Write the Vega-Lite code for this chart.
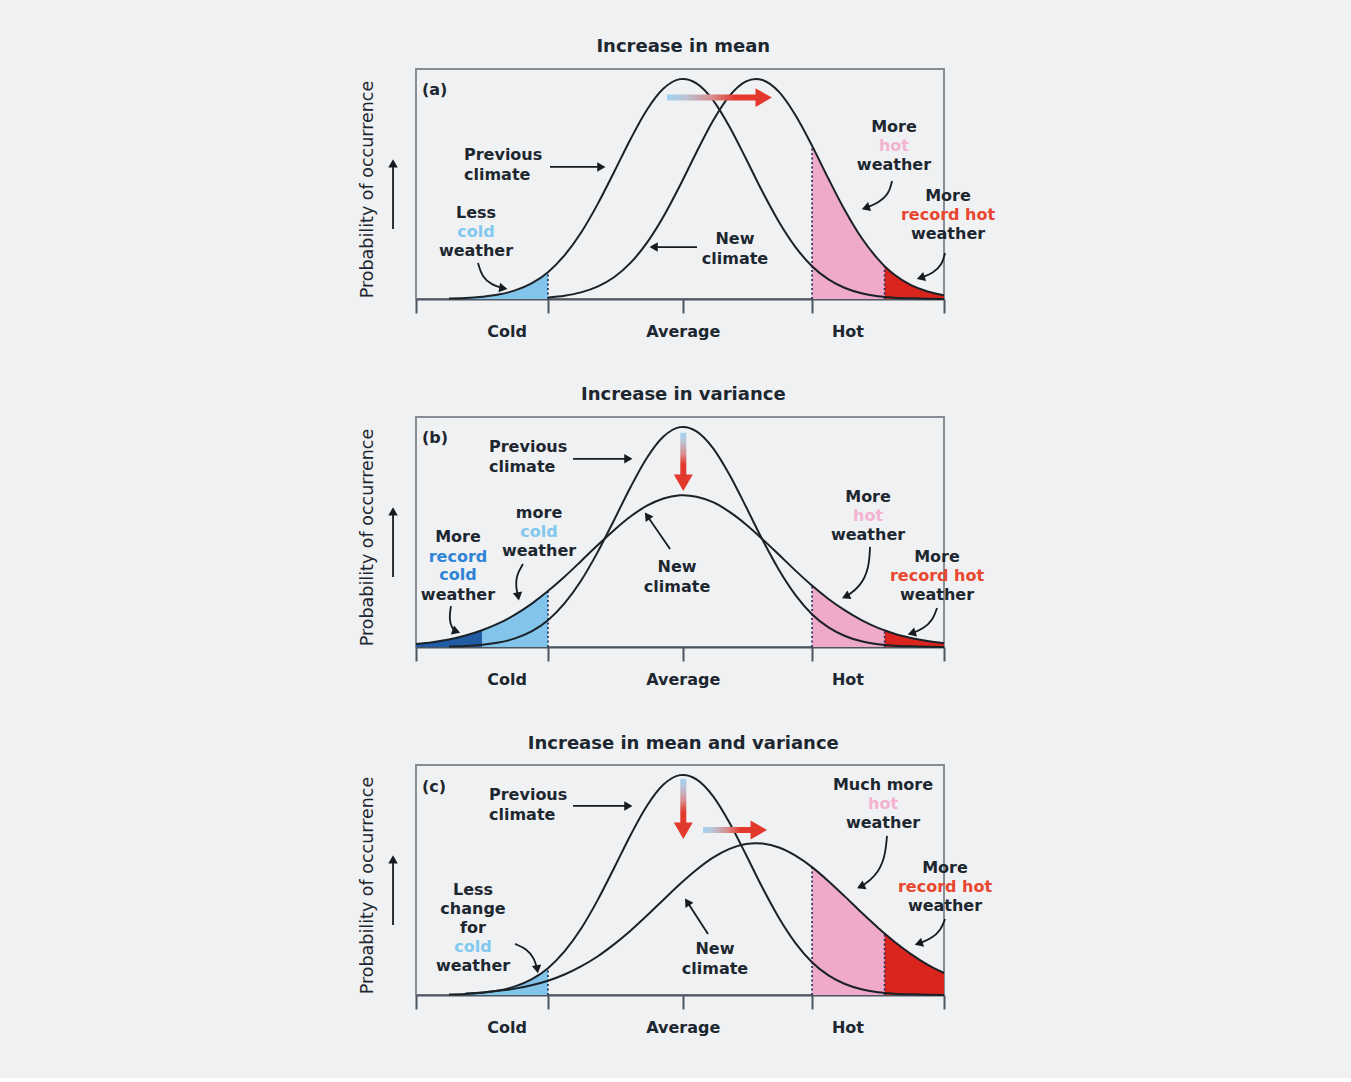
{
"$schema":"https://vega.github.io/schema/vega-lite/v6.json",
"background":"#f0f1f3",
"padding":{"left":358,"top":36,"right":360,"bottom":40},
"config":{"view":{"stroke":"#878e95","strokeWidth":2},"axis":{"grid":false}},
"data":{"values":[
{"panel":"a","kind":"curve","series":"prev","x":-3.55,"y":0.002,"zone":"cold"},
{"panel":"a","kind":"curve","series":"prev","x":-3.3,"y":0.004,"zone":"cold"},
{"panel":"a","kind":"curve","series":"prev","x":-3.05,"y":0.010,"zone":"cold"},
{"panel":"a","kind":"curve","series":"prev","x":-2.8,"y":0.020,"zone":"cold"},
{"panel":"a","kind":"curve","series":"prev","x":-2.55,"y":0.039,"zone":"cold"},
{"panel":"a","kind":"curve","series":"prev","x":-2.3,"y":0.071,"zone":"cold"},
{"panel":"a","kind":"curve","series":"prev","x":-2.05,"y":0.122,"zone":"cold"},
{"panel":"a","kind":"curve","series":"prev","x":-1.8,"y":0.198},
{"panel":"a","kind":"curve","series":"prev","x":-1.55,"y":0.301},
{"panel":"a","kind":"curve","series":"prev","x":-1.3,"y":0.430},
{"panel":"a","kind":"curve","series":"prev","x":-1.05,"y":0.576},
{"panel":"a","kind":"curve","series":"prev","x":-0.8,"y":0.726},
{"panel":"a","kind":"curve","series":"prev","x":-0.55,"y":0.860},
{"panel":"a","kind":"curve","series":"prev","x":-0.3,"y":0.956},
{"panel":"a","kind":"curve","series":"prev","x":-0.05,"y":0.999},
{"panel":"a","kind":"curve","series":"prev","x":0,"y":1.0},
{"panel":"a","kind":"curve","series":"prev","x":0.2,"y":0.980},
{"panel":"a","kind":"curve","series":"prev","x":0.45,"y":0.904},
{"panel":"a","kind":"curve","series":"prev","x":0.7,"y":0.783},
{"panel":"a","kind":"curve","series":"prev","x":0.95,"y":0.637},
{"panel":"a","kind":"curve","series":"prev","x":1.2,"y":0.487},
{"panel":"a","kind":"curve","series":"prev","x":1.45,"y":0.350},
{"panel":"a","kind":"curve","series":"prev","x":1.7,"y":0.236},
{"panel":"a","kind":"curve","series":"prev","x":1.95,"y":0.149},
{"panel":"a","kind":"curve","series":"prev","x":2.2,"y":0.089},
{"panel":"a","kind":"curve","series":"prev","x":2.45,"y":0.050},
{"panel":"a","kind":"curve","series":"prev","x":2.7,"y":0.026},
{"panel":"a","kind":"curve","series":"prev","x":2.95,"y":0.013},
{"panel":"a","kind":"curve","series":"prev","x":3.2,"y":0.006},
{"panel":"a","kind":"curve","series":"prev","x":3.45,"y":0.003},
{"panel":"a","kind":"curve","series":"prev","x":3.7,"y":0.001},
{"panel":"a","kind":"curve","series":"prev","x":3.95,"y":0.0},
{"panel":"a","kind":"curve","series":"new","x":-2.05,"y":0.007},
{"panel":"a","kind":"curve","series":"new","x":-1.8,"y":0.015},
{"panel":"a","kind":"curve","series":"new","x":-1.55,"y":0.030},
{"panel":"a","kind":"curve","series":"new","x":-1.3,"y":0.056},
{"panel":"a","kind":"curve","series":"new","x":-1.05,"y":0.099},
{"panel":"a","kind":"curve","series":"new","x":-0.8,"y":0.164},
{"panel":"a","kind":"curve","series":"new","x":-0.55,"y":0.256},
{"panel":"a","kind":"curve","series":"new","x":-0.3,"y":0.375},
{"panel":"a","kind":"curve","series":"new","x":-0.05,"y":0.516},
{"panel":"a","kind":"curve","series":"new","x":0.2,"y":0.667},
{"panel":"a","kind":"curve","series":"new","x":0.45,"y":0.810},
{"panel":"a","kind":"curve","series":"new","x":0.7,"y":0.923},
{"panel":"a","kind":"curve","series":"new","x":0.95,"y":0.989},
{"panel":"a","kind":"curve","series":"new","x":1.1,"y":1.0},
{"panel":"a","kind":"curve","series":"new","x":1.2,"y":0.995},
{"panel":"a","kind":"curve","series":"new","x":1.45,"y":0.941},
{"panel":"a","kind":"curve","series":"new","x":1.7,"y":0.835},
{"panel":"a","kind":"curve","series":"new","x":1.95,"y":0.697,"zone":"hot"},
{"panel":"a","kind":"curve","series":"new","x":2.2,"y":0.546,"zone":"hot"},
{"panel":"a","kind":"curve","series":"new","x":2.45,"y":0.402,"zone":"hot"},
{"panel":"a","kind":"curve","series":"new","x":2.7,"y":0.278,"zone":"hot"},
{"panel":"a","kind":"curve","series":"new","x":2.95,"y":0.181,"zone":"hot"},
{"panel":"a","kind":"curve","series":"new","x":3.05,"y":0.149,"zone":"hot"},
{"panel":"a","kind":"curve","series":"new","x":3.05,"y":0.149,"zone":"rhot"},
{"panel":"a","kind":"curve","series":"new","x":3.2,"y":0.110,"zone":"rhot"},
{"panel":"a","kind":"curve","series":"new","x":3.45,"y":0.063,"zone":"rhot"},
{"panel":"a","kind":"curve","series":"new","x":3.7,"y":0.034,"zone":"rhot"},
{"panel":"a","kind":"curve","series":"new","x":3.95,"y":0.017,"zone":"rhot"},

{"panel":"b","kind":"curve","series":"prev","x":-3.55,"y":0.002},
{"panel":"b","kind":"curve","series":"prev","x":-3.3,"y":0.004},
{"panel":"b","kind":"curve","series":"prev","x":-3.05,"y":0.010},
{"panel":"b","kind":"curve","series":"prev","x":-2.8,"y":0.020},
{"panel":"b","kind":"curve","series":"prev","x":-2.55,"y":0.039},
{"panel":"b","kind":"curve","series":"prev","x":-2.3,"y":0.071},
{"panel":"b","kind":"curve","series":"prev","x":-2.05,"y":0.122},
{"panel":"b","kind":"curve","series":"prev","x":-1.8,"y":0.198},
{"panel":"b","kind":"curve","series":"prev","x":-1.55,"y":0.301},
{"panel":"b","kind":"curve","series":"prev","x":-1.3,"y":0.430},
{"panel":"b","kind":"curve","series":"prev","x":-1.05,"y":0.576},
{"panel":"b","kind":"curve","series":"prev","x":-0.8,"y":0.726},
{"panel":"b","kind":"curve","series":"prev","x":-0.55,"y":0.860},
{"panel":"b","kind":"curve","series":"prev","x":-0.3,"y":0.956},
{"panel":"b","kind":"curve","series":"prev","x":-0.05,"y":0.999},
{"panel":"b","kind":"curve","series":"prev","x":0,"y":1.0},
{"panel":"b","kind":"curve","series":"prev","x":0.2,"y":0.980},
{"panel":"b","kind":"curve","series":"prev","x":0.45,"y":0.904},
{"panel":"b","kind":"curve","series":"prev","x":0.7,"y":0.783},
{"panel":"b","kind":"curve","series":"prev","x":0.95,"y":0.637},
{"panel":"b","kind":"curve","series":"prev","x":1.2,"y":0.487},
{"panel":"b","kind":"curve","series":"prev","x":1.45,"y":0.350},
{"panel":"b","kind":"curve","series":"prev","x":1.7,"y":0.236},
{"panel":"b","kind":"curve","series":"prev","x":1.95,"y":0.149},
{"panel":"b","kind":"curve","series":"prev","x":2.2,"y":0.089},
{"panel":"b","kind":"curve","series":"prev","x":2.45,"y":0.050},
{"panel":"b","kind":"curve","series":"prev","x":2.7,"y":0.026},
{"panel":"b","kind":"curve","series":"prev","x":2.95,"y":0.013},
{"panel":"b","kind":"curve","series":"prev","x":3.2,"y":0.006},
{"panel":"b","kind":"curve","series":"prev","x":3.45,"y":0.003},
{"panel":"b","kind":"curve","series":"prev","x":3.7,"y":0.001},
{"panel":"b","kind":"curve","series":"prev","x":3.95,"y":0.0},
{"panel":"b","kind":"curve","series":"new","x":-4.05,"y":0.014,"zone":"rcold"},
{"panel":"b","kind":"curve","series":"new","x":-3.8,"y":0.022,"zone":"rcold"},
{"panel":"b","kind":"curve","series":"new","x":-3.55,"y":0.034,"zone":"rcold"},
{"panel":"b","kind":"curve","series":"new","x":-3.3,"y":0.052,"zone":"rcold"},
{"panel":"b","kind":"curve","series":"new","x":-3.05,"y":0.076,"zone":"rcold"},
{"panel":"b","kind":"curve","series":"new","x":-3.05,"y":0.076,"zone":"cold"},
{"panel":"b","kind":"curve","series":"new","x":-2.8,"y":0.107,"zone":"cold"},
{"panel":"b","kind":"curve","series":"new","x":-2.55,"y":0.147,"zone":"cold"},
{"panel":"b","kind":"curve","series":"new","x":-2.3,"y":0.196,"zone":"cold"},
{"panel":"b","kind":"curve","series":"new","x":-2.05,"y":0.254,"zone":"cold"},
{"panel":"b","kind":"curve","series":"new","x":-1.8,"y":0.319},
{"panel":"b","kind":"curve","series":"new","x":-1.55,"y":0.390},
{"panel":"b","kind":"curve","series":"new","x":-1.3,"y":0.462},
{"panel":"b","kind":"curve","series":"new","x":-1.05,"y":0.531},
{"panel":"b","kind":"curve","series":"new","x":-0.8,"y":0.593},
{"panel":"b","kind":"curve","series":"new","x":-0.55,"y":0.642},
{"panel":"b","kind":"curve","series":"new","x":-0.3,"y":0.675},
{"panel":"b","kind":"curve","series":"new","x":-0.05,"y":0.689},
{"panel":"b","kind":"curve","series":"new","x":0,"y":0.690},
{"panel":"b","kind":"curve","series":"new","x":0.2,"y":0.683},
{"panel":"b","kind":"curve","series":"new","x":0.45,"y":0.658},
{"panel":"b","kind":"curve","series":"new","x":0.7,"y":0.614},
{"panel":"b","kind":"curve","series":"new","x":0.95,"y":0.557},
{"panel":"b","kind":"curve","series":"new","x":1.2,"y":0.490},
{"panel":"b","kind":"curve","series":"new","x":1.45,"y":0.419},
{"panel":"b","kind":"curve","series":"new","x":1.7,"y":0.347},
{"panel":"b","kind":"curve","series":"new","x":1.95,"y":0.279,"zone":"hot"},
{"panel":"b","kind":"curve","series":"new","x":2.2,"y":0.218,"zone":"hot"},
{"panel":"b","kind":"curve","series":"new","x":2.45,"y":0.166,"zone":"hot"},
{"panel":"b","kind":"curve","series":"new","x":2.7,"y":0.122,"zone":"hot"},
{"panel":"b","kind":"curve","series":"new","x":2.95,"y":0.087,"zone":"hot"},
{"panel":"b","kind":"curve","series":"new","x":3.05,"y":0.076,"zone":"hot"},
{"panel":"b","kind":"curve","series":"new","x":3.05,"y":0.076,"zone":"rhot"},
{"panel":"b","kind":"curve","series":"new","x":3.2,"y":0.060,"zone":"rhot"},
{"panel":"b","kind":"curve","series":"new","x":3.45,"y":0.041,"zone":"rhot"},
{"panel":"b","kind":"curve","series":"new","x":3.7,"y":0.027,"zone":"rhot"},
{"panel":"b","kind":"curve","series":"new","x":3.95,"y":0.017,"zone":"rhot"},

{"panel":"c","kind":"curve","series":"prev","x":-3.55,"y":0.002,"zone":"cold"},
{"panel":"c","kind":"curve","series":"prev","x":-3.3,"y":0.004,"zone":"cold"},
{"panel":"c","kind":"curve","series":"prev","x":-3.05,"y":0.010,"zone":"cold"},
{"panel":"c","kind":"curve","series":"prev","x":-2.8,"y":0.020,"zone":"cold"},
{"panel":"c","kind":"curve","series":"prev","x":-2.55,"y":0.039,"zone":"cold"},
{"panel":"c","kind":"curve","series":"prev","x":-2.3,"y":0.071,"zone":"cold"},
{"panel":"c","kind":"curve","series":"prev","x":-2.05,"y":0.122,"zone":"cold"},
{"panel":"c","kind":"curve","series":"prev","x":-1.8,"y":0.198},
{"panel":"c","kind":"curve","series":"prev","x":-1.55,"y":0.301},
{"panel":"c","kind":"curve","series":"prev","x":-1.3,"y":0.430},
{"panel":"c","kind":"curve","series":"prev","x":-1.05,"y":0.576},
{"panel":"c","kind":"curve","series":"prev","x":-0.8,"y":0.726},
{"panel":"c","kind":"curve","series":"prev","x":-0.55,"y":0.860},
{"panel":"c","kind":"curve","series":"prev","x":-0.3,"y":0.956},
{"panel":"c","kind":"curve","series":"prev","x":-0.05,"y":0.999},
{"panel":"c","kind":"curve","series":"prev","x":0,"y":1.0},
{"panel":"c","kind":"curve","series":"prev","x":0.2,"y":0.980},
{"panel":"c","kind":"curve","series":"prev","x":0.45,"y":0.904},
{"panel":"c","kind":"curve","series":"prev","x":0.7,"y":0.783},
{"panel":"c","kind":"curve","series":"prev","x":0.95,"y":0.637},
{"panel":"c","kind":"curve","series":"prev","x":1.2,"y":0.487},
{"panel":"c","kind":"curve","series":"prev","x":1.45,"y":0.350},
{"panel":"c","kind":"curve","series":"prev","x":1.7,"y":0.236},
{"panel":"c","kind":"curve","series":"prev","x":1.95,"y":0.149},
{"panel":"c","kind":"curve","series":"prev","x":2.2,"y":0.089},
{"panel":"c","kind":"curve","series":"prev","x":2.45,"y":0.050},
{"panel":"c","kind":"curve","series":"prev","x":2.7,"y":0.026},
{"panel":"c","kind":"curve","series":"prev","x":2.95,"y":0.013},
{"panel":"c","kind":"curve","series":"prev","x":3.2,"y":0.006},
{"panel":"c","kind":"curve","series":"prev","x":3.45,"y":0.003},
{"panel":"c","kind":"curve","series":"prev","x":3.7,"y":0.001},
{"panel":"c","kind":"curve","series":"prev","x":3.95,"y":0.0},
{"panel":"c","kind":"curve","series":"new","x":-3.3,"y":0.007},
{"panel":"c","kind":"curve","series":"new","x":-3.05,"y":0.011},
{"panel":"c","kind":"curve","series":"new","x":-2.8,"y":0.019},
{"panel":"c","kind":"curve","series":"new","x":-2.55,"y":0.029},
{"panel":"c","kind":"curve","series":"new","x":-2.3,"y":0.044},
{"panel":"c","kind":"curve","series":"new","x":-2.05,"y":0.065},
{"panel":"c","kind":"curve","series":"new","x":-1.8,"y":0.093},
{"panel":"c","kind":"curve","series":"new","x":-1.55,"y":0.130},
{"panel":"c","kind":"curve","series":"new","x":-1.3,"y":0.175},
{"panel":"c","kind":"curve","series":"new","x":-1.05,"y":0.230},
{"panel":"c","kind":"curve","series":"new","x":-0.8,"y":0.292},
{"panel":"c","kind":"curve","series":"new","x":-0.55,"y":0.361},
{"panel":"c","kind":"curve","series":"new","x":-0.3,"y":0.433},
{"panel":"c","kind":"curve","series":"new","x":-0.05,"y":0.504},
{"panel":"c","kind":"curve","series":"new","x":0.2,"y":0.569},
{"panel":"c","kind":"curve","series":"new","x":0.45,"y":0.624},
{"panel":"c","kind":"curve","series":"new","x":0.7,"y":0.664},
{"panel":"c","kind":"curve","series":"new","x":0.95,"y":0.686},
{"panel":"c","kind":"curve","series":"new","x":1.1,"y":0.690},
{"panel":"c","kind":"curve","series":"new","x":1.2,"y":0.688},
{"panel":"c","kind":"curve","series":"new","x":1.45,"y":0.670},
{"panel":"c","kind":"curve","series":"new","x":1.7,"y":0.633},
{"panel":"c","kind":"curve","series":"new","x":1.95,"y":0.581,"zone":"hot"},
{"panel":"c","kind":"curve","series":"new","x":2.2,"y":0.517,"zone":"hot"},
{"panel":"c","kind":"curve","series":"new","x":2.45,"y":0.447,"zone":"hot"},
{"panel":"c","kind":"curve","series":"new","x":2.7,"y":0.375,"zone":"hot"},
{"panel":"c","kind":"curve","series":"new","x":2.95,"y":0.306,"zone":"hot"},
{"panel":"c","kind":"curve","series":"new","x":3.05,"y":0.279,"zone":"hot"},
{"panel":"c","kind":"curve","series":"new","x":3.05,"y":0.279,"zone":"rhot"},
{"panel":"c","kind":"curve","series":"new","x":3.2,"y":0.242,"zone":"rhot"},
{"panel":"c","kind":"curve","series":"new","x":3.45,"y":0.186,"zone":"rhot"},
{"panel":"c","kind":"curve","series":"new","x":3.7,"y":0.138,"zone":"rhot"},
{"panel":"c","kind":"curve","series":"new","x":3.95,"y":0.100,"zone":"rhot"},

{"panel":"a","kind":"thr","x":-2.05,"y":0,"y2":0.122},
{"panel":"a","kind":"thr","x":1.95,"y":0,"y2":0.697},
{"panel":"a","kind":"thr","x":3.05,"y":0,"y2":0.149},
{"panel":"b","kind":"thr","x":-2.05,"y":0,"y2":0.254},
{"panel":"b","kind":"thr","x":1.95,"y":0,"y2":0.279},
{"panel":"b","kind":"thr","x":3.05,"y":0,"y2":0.076},
{"panel":"c","kind":"thr","x":-2.05,"y":0,"y2":0.122},
{"panel":"c","kind":"thr","x":1.95,"y":0,"y2":0.581},
{"panel":"c","kind":"thr","x":3.05,"y":0,"y2":0.279},

{"panel":"a","kind":"arr","id":"ya","seq":1,"x":-4.398,"y":0.318},
{"panel":"a","kind":"arr","id":"ya","seq":2,"x":-4.398,"y":0.6},
{"panel":"a","kind":"head","x":-4.398,"y":0.61,"angle":0},
{"panel":"a","kind":"arr","id":"a1","seq":1,"x":-2.02,"y":0.6},
{"panel":"a","kind":"arr","id":"a1","seq":2,"x":-1.262,"y":0.6},
{"panel":"a","kind":"head","x":-1.262,"y":0.6,"angle":90},
{"panel":"a","kind":"arr","id":"a2","seq":1,"x":-3.111,"y":0.164},
{"panel":"a","kind":"arr","id":"a2","seq":2,"x":-3.05,"y":0.1},
{"panel":"a","kind":"arr","id":"a2","seq":3,"x":-2.898,"y":0.064},
{"panel":"a","kind":"arr","id":"a2","seq":4,"x":-2.747,"y":0.05},
{"panel":"a","kind":"head","x":-2.747,"y":0.05,"angle":100},
{"panel":"a","kind":"arr","id":"a3","seq":1,"x":0.208,"y":0.236},
{"panel":"a","kind":"arr","id":"a3","seq":2,"x":-0.429,"y":0.236},
{"panel":"a","kind":"head","x":-0.429,"y":0.236,"angle":270},
{"panel":"a","kind":"arr","id":"a4","seq":1,"x":3.162,"y":0.536},
{"panel":"a","kind":"arr","id":"a4","seq":2,"x":3.117,"y":0.477},
{"panel":"a","kind":"arr","id":"a4","seq":3,"x":2.95,"y":0.436},
{"panel":"a","kind":"arr","id":"a4","seq":4,"x":2.783,"y":0.416},
{"panel":"a","kind":"head","x":2.783,"y":0.416,"angle":252},
{"panel":"a","kind":"arr","id":"a5","seq":1,"x":3.965,"y":0.209},
{"panel":"a","kind":"arr","id":"a5","seq":2,"x":3.92,"y":0.155},
{"panel":"a","kind":"arr","id":"a5","seq":3,"x":3.783,"y":0.118},
{"panel":"a","kind":"arr","id":"a5","seq":4,"x":3.617,"y":0.098},
{"panel":"a","kind":"head","x":3.617,"y":0.098,"angle":252},
{"panel":"a","kind":"hbody","x":-0.247,"x2":1.13,"y":0.915},
{"panel":"a","kind":"rhead","x":1.177,"y":0.915,"angle":90},

{"panel":"b","kind":"arr","id":"ya","seq":1,"x":-4.398,"y":0.318},
{"panel":"b","kind":"arr","id":"ya","seq":2,"x":-4.398,"y":0.6},
{"panel":"b","kind":"head","x":-4.398,"y":0.61,"angle":0},
{"panel":"b","kind":"arr","id":"b1","seq":1,"x":-1.671,"y":0.855},
{"panel":"b","kind":"arr","id":"b1","seq":2,"x":-0.853,"y":0.855},
{"panel":"b","kind":"head","x":-0.853,"y":0.855,"angle":90},
{"panel":"b","kind":"arr","id":"b2","seq":1,"x":-3.52,"y":0.186},
{"panel":"b","kind":"arr","id":"b2","seq":2,"x":-3.55,"y":0.127},
{"panel":"b","kind":"arr","id":"b2","seq":3,"x":-3.505,"y":0.086},
{"panel":"b","kind":"arr","id":"b2","seq":4,"x":-3.459,"y":0.073},
{"panel":"b","kind":"head","x":-3.459,"y":0.073,"angle":110},
{"panel":"b","kind":"arr","id":"b3","seq":1,"x":-2.429,"y":0.377},
{"panel":"b","kind":"arr","id":"b3","seq":2,"x":-2.535,"y":0.323},
{"panel":"b","kind":"arr","id":"b3","seq":3,"x":-2.535,"y":0.268},
{"panel":"b","kind":"arr","id":"b3","seq":4,"x":-2.505,"y":0.236},
{"panel":"b","kind":"head","x":-2.505,"y":0.236,"angle":170},
{"panel":"b","kind":"arr","id":"b4","seq":1,"x":-0.201,"y":0.445},
{"panel":"b","kind":"arr","id":"b4","seq":2,"x":-0.535,"y":0.591},
{"panel":"b","kind":"head","x":-0.535,"y":0.591,"angle":325},
{"panel":"b","kind":"arr","id":"b5","seq":1,"x":2.829,"y":0.455},
{"panel":"b","kind":"arr","id":"b5","seq":2,"x":2.814,"y":0.355},
{"panel":"b","kind":"arr","id":"b5","seq":3,"x":2.677,"y":0.273},
{"panel":"b","kind":"arr","id":"b5","seq":4,"x":2.48,"y":0.232},
{"panel":"b","kind":"head","x":2.48,"y":0.232,"angle":245},
{"panel":"b","kind":"arr","id":"b6","seq":1,"x":3.844,"y":0.177},
{"panel":"b","kind":"arr","id":"b6","seq":2,"x":3.783,"y":0.123},
{"panel":"b","kind":"arr","id":"b6","seq":3,"x":3.632,"y":0.082},
{"panel":"b","kind":"arr","id":"b6","seq":4,"x":3.48,"y":0.064},
{"panel":"b","kind":"head","x":3.48,"y":0.064,"angle":252},
{"panel":"b","kind":"vbody","x":0,"y":0.973,"y2":0.78},
{"panel":"b","kind":"rhead","x":0,"y":0.759,"angle":180},

{"panel":"c","kind":"arr","id":"ya","seq":1,"x":-4.398,"y":0.318},
{"panel":"c","kind":"arr","id":"ya","seq":2,"x":-4.398,"y":0.6},
{"panel":"c","kind":"head","x":-4.398,"y":0.61,"angle":0},
{"panel":"c","kind":"arr","id":"c1","seq":1,"x":-1.671,"y":0.859},
{"panel":"c","kind":"arr","id":"c1","seq":2,"x":-0.853,"y":0.859},
{"panel":"c","kind":"head","x":-0.853,"y":0.859,"angle":90},
{"panel":"c","kind":"arr","id":"c2","seq":1,"x":-2.55,"y":0.232},
{"panel":"c","kind":"arr","id":"c2","seq":2,"x":-2.368,"y":0.209},
{"panel":"c","kind":"arr","id":"c2","seq":3,"x":-2.262,"y":0.168},
{"panel":"c","kind":"arr","id":"c2","seq":4,"x":-2.217,"y":0.123},
{"panel":"c","kind":"head","x":-2.217,"y":0.123,"angle":170},
{"panel":"c","kind":"arr","id":"c3","seq":1,"x":0.374,"y":0.277},
{"panel":"c","kind":"arr","id":"c3","seq":2,"x":0.071,"y":0.418},
{"panel":"c","kind":"head","x":0.071,"y":0.418,"angle":327},
{"panel":"c","kind":"arr","id":"c4","seq":1,"x":3.086,"y":0.723},
{"panel":"c","kind":"arr","id":"c4","seq":2,"x":3.056,"y":0.618},
{"panel":"c","kind":"arr","id":"c4","seq":3,"x":2.905,"y":0.536},
{"panel":"c","kind":"arr","id":"c4","seq":4,"x":2.708,"y":0.495},
{"panel":"c","kind":"head","x":2.708,"y":0.495,"angle":245},
{"panel":"c","kind":"arr","id":"c5","seq":1,"x":3.965,"y":0.345},
{"panel":"c","kind":"arr","id":"c5","seq":2,"x":3.905,"y":0.295},
{"panel":"c","kind":"arr","id":"c5","seq":3,"x":3.753,"y":0.255},
{"panel":"c","kind":"arr","id":"c5","seq":4,"x":3.586,"y":0.236},
{"panel":"c","kind":"head","x":3.586,"y":0.236,"angle":252},
{"panel":"c","kind":"vbody","x":0,"y":0.982,"y2":0.78},
{"panel":"c","kind":"rhead","x":0,"y":0.759,"angle":180},
{"panel":"c","kind":"hbody","x":0.299,"x2":1.05,"y":0.75},
{"panel":"c","kind":"rhead","x":1.102,"y":0.75,"angle":90},

{"panel":"a","kind":"title","x":0,"y":1.145,"text":"Increase in mean"},
{"panel":"b","kind":"title","x":0,"y":1.145,"text":"Increase in variance"},
{"panel":"c","kind":"title","x":0,"y":1.141,"text":"Increase in mean and variance"},

{"panel":"a","kind":"tl","x":-3.96,"y":0.95,"text":"(a)","tone":"ink"},
{"panel":"a","kind":"tl","x":-3.323,"y":0.655,"text":"Previous","tone":"ink"},
{"panel":"a","kind":"tl","x":-3.323,"y":0.564,"text":"climate","tone":"ink"},
{"panel":"a","kind":"tc","x":-3.141,"y":0.391,"text":"Less","tone":"ink"},
{"panel":"a","kind":"tc","x":-3.141,"y":0.305,"text":"cold","tone":"tcold"},
{"panel":"a","kind":"tc","x":-3.141,"y":0.219,"text":"weather","tone":"ink"},
{"panel":"a","kind":"tc","x":0.783,"y":0.273,"text":"New","tone":"ink"},
{"panel":"a","kind":"tc","x":0.783,"y":0.182,"text":"climate","tone":"ink"},
{"panel":"a","kind":"tc","x":3.192,"y":0.781,"text":"More","tone":"ink"},
{"panel":"a","kind":"tc","x":3.192,"y":0.695,"text":"hot","tone":"thot"},
{"panel":"a","kind":"tc","x":3.192,"y":0.609,"text":"weather","tone":"ink"},
{"panel":"a","kind":"tc","x":4.011,"y":0.468,"text":"More","tone":"ink"},
{"panel":"a","kind":"tc","x":4.011,"y":0.382,"text":"record hot","tone":"trhot"},
{"panel":"a","kind":"tc","x":4.011,"y":0.296,"text":"weather","tone":"ink"},
{"panel":"a","kind":"tc","x":-2.671,"y":-0.15,"text":"Cold","tone":"ink"},
{"panel":"a","kind":"tc","x":0,"y":-0.15,"text":"Average","tone":"ink"},
{"panel":"a","kind":"tc","x":2.495,"y":-0.15,"text":"Hot","tone":"ink"},

{"panel":"b","kind":"tl","x":-3.96,"y":0.95,"text":"(b)","tone":"ink"},
{"panel":"b","kind":"tl","x":-2.944,"y":0.909,"text":"Previous","tone":"ink"},
{"panel":"b","kind":"tl","x":-2.944,"y":0.818,"text":"climate","tone":"ink"},
{"panel":"b","kind":"tc","x":-3.414,"y":0.498,"text":"More","tone":"ink"},
{"panel":"b","kind":"tc","x":-3.414,"y":0.411,"text":"record","tone":"trcold"},
{"panel":"b","kind":"tc","x":-3.414,"y":0.325,"text":"cold","tone":"trcold"},
{"panel":"b","kind":"tc","x":-3.414,"y":0.238,"text":"weather","tone":"ink"},
{"panel":"b","kind":"tc","x":-2.186,"y":0.609,"text":"more","tone":"ink"},
{"panel":"b","kind":"tc","x":-2.186,"y":0.523,"text":"cold","tone":"tcold"},
{"panel":"b","kind":"tc","x":-2.186,"y":0.437,"text":"weather","tone":"ink"},
{"panel":"b","kind":"tc","x":-0.095,"y":0.364,"text":"New","tone":"ink"},
{"panel":"b","kind":"tc","x":-0.095,"y":0.273,"text":"climate","tone":"ink"},
{"panel":"b","kind":"tc","x":2.799,"y":0.681,"text":"More","tone":"ink"},
{"panel":"b","kind":"tc","x":2.799,"y":0.595,"text":"hot","tone":"thot"},
{"panel":"b","kind":"tc","x":2.799,"y":0.509,"text":"weather","tone":"ink"},
{"panel":"b","kind":"tc","x":3.844,"y":0.409,"text":"More","tone":"ink"},
{"panel":"b","kind":"tc","x":3.844,"y":0.323,"text":"record hot","tone":"trhot"},
{"panel":"b","kind":"tc","x":3.844,"y":0.237,"text":"weather","tone":"ink"},
{"panel":"b","kind":"tc","x":-2.671,"y":-0.15,"text":"Cold","tone":"ink"},
{"panel":"b","kind":"tc","x":0,"y":-0.15,"text":"Average","tone":"ink"},
{"panel":"b","kind":"tc","x":2.495,"y":-0.15,"text":"Hot","tone":"ink"},

{"panel":"c","kind":"tl","x":-3.96,"y":0.945,"text":"(c)","tone":"ink"},
{"panel":"c","kind":"tl","x":-2.944,"y":0.909,"text":"Previous","tone":"ink"},
{"panel":"c","kind":"tl","x":-2.944,"y":0.818,"text":"climate","tone":"ink"},
{"panel":"c","kind":"tc","x":-3.186,"y":0.478,"text":"Less","tone":"ink"},
{"panel":"c","kind":"tc","x":-3.186,"y":0.391,"text":"change","tone":"ink"},
{"panel":"c","kind":"tc","x":-3.186,"y":0.305,"text":"for","tone":"ink"},
{"panel":"c","kind":"tc","x":-3.186,"y":0.219,"text":"cold","tone":"tcold"},
{"panel":"c","kind":"tc","x":-3.186,"y":0.132,"text":"weather","tone":"ink"},
{"panel":"c","kind":"tc","x":0.48,"y":0.209,"text":"New","tone":"ink"},
{"panel":"c","kind":"tc","x":0.48,"y":0.118,"text":"climate","tone":"ink"},
{"panel":"c","kind":"tc","x":3.026,"y":0.954,"text":"Much more","tone":"ink"},
{"panel":"c","kind":"tc","x":3.026,"y":0.868,"text":"hot","tone":"thot"},
{"panel":"c","kind":"tc","x":3.026,"y":0.782,"text":"weather","tone":"ink"},
{"panel":"c","kind":"tc","x":3.965,"y":0.577,"text":"More","tone":"ink"},
{"panel":"c","kind":"tc","x":3.965,"y":0.491,"text":"record hot","tone":"trhot"},
{"panel":"c","kind":"tc","x":3.965,"y":0.405,"text":"weather","tone":"ink"},
{"panel":"c","kind":"tc","x":-2.671,"y":-0.15,"text":"Cold","tone":"ink"},
{"panel":"c","kind":"tc","x":0,"y":-0.15,"text":"Average","tone":"ink"},
{"panel":"c","kind":"tc","x":2.495,"y":-0.15,"text":"Hot","tone":"ink"}
]},
"facet":{"row":{"field":"panel","type":"nominal","header":{"labels":false,"title":null}}},
"spacing":{"row":118},
"bounds":"flush",
"resolve":{"axis":{"x":"independent"}},
"spec":{
"width":528,"height":230,
"layer":[
{"transform":[{"filter":"datum.kind=='curve' && isValid(datum.zone)"}],
 "mark":{"type":"area","interpolate":"monotone"},
 "encoding":{
  "x":{"field":"x","type":"quantitative","scale":{"domain":[-4.05,3.95],"nice":false,"zero":false,"padding":0},
       "axis":{"values":[-4.05,-2.05,0,1.95,3.95],"labels":false,"title":null,"grid":false,"tickSize":14,"tickWidth":2,"tickColor":"#4b5660","domainColor":"#4b5660","domainWidth":2}},
  "y":{"field":"y","type":"quantitative","stack":null,"scale":{"domain":[0,1.045],"nice":false,"zero":false,"padding":0},
       "axis":{"title":"Probability of occurrence","labels":false,"ticks":false,"domain":false,"grid":false,"titleFont":"DejaVu Sans","titleFontSize":17.5,"titleFontWeight":"normal","titleColor":"#1d2730","titlePadding":40,"titleY":120}},
  "color":{"field":"zone","type":"nominal","scale":{"domain":["rcold","cold","hot","rhot"],"range":["#1f5ca3","#82c4ea","#efa9c9","#d9251e"]},"legend":null}
 }},
{"transform":[{"filter":"datum.kind=='thr'"}],
 "mark":{"type":"rule","strokeDash":[2,2.5],"strokeWidth":1.6,"color":"#1f2b5a"},
 "encoding":{"x":{"field":"x","type":"quantitative"},"y":{"field":"y","type":"quantitative"},"y2":{"field":"y2"}}},
{"transform":[{"filter":"datum.kind=='curve'"}],
 "mark":{"type":"line","interpolate":"monotone","strokeWidth":2,"color":"#1a2228"},
 "encoding":{"x":{"field":"x","type":"quantitative"},"y":{"field":"y","type":"quantitative"},"detail":{"field":"series"}}},
{"transform":[{"filter":"datum.kind=='arr'"}],
 "mark":{"type":"line","interpolate":"basis","strokeWidth":1.8,"color":"#151b20"},
 "encoding":{"x":{"field":"x","type":"quantitative"},"y":{"field":"y","type":"quantitative"},"detail":{"field":"id"},"order":{"field":"seq","type":"quantitative"}}},
{"transform":[{"filter":"datum.kind=='head'"}],
 "mark":{"type":"point","shape":"triangle","filled":true,"size":90,"color":"#151b20","opacity":1},
 "encoding":{"x":{"field":"x","type":"quantitative"},"y":{"field":"y","type":"quantitative"},"angle":{"field":"angle","type":"quantitative","scale":{"domain":[0,360],"range":[0,360]}}}},
{"transform":[{"filter":"datum.kind=='hbody'"}],
 "mark":{"type":"bar","size":6,"color":{"gradient":"linear","x1":0,"y1":0,"x2":1,"y2":0,"stops":[{"offset":0,"color":"#9fd2f2"},{"offset":0.2,"color":"#bcc3d6"},{"offset":0.5,"color":"#d98a8a"},{"offset":0.75,"color":"#e2392c"},{"offset":1,"color":"#e2392c"}]}},
 "encoding":{"x":{"field":"x","type":"quantitative"},"x2":{"field":"x2"},"y":{"field":"y","type":"quantitative"}}},
{"transform":[{"filter":"datum.kind=='vbody'"}],
 "mark":{"type":"bar","size":6,"color":{"gradient":"linear","x1":0,"y1":0,"x2":0,"y2":1,"stops":[{"offset":0,"color":"#9fd2f2"},{"offset":0.2,"color":"#bcc3d6"},{"offset":0.5,"color":"#d98a8a"},{"offset":0.75,"color":"#e2392c"},{"offset":1,"color":"#e2392c"}]}},
 "encoding":{"x":{"field":"x","type":"quantitative"},"y":{"field":"y","type":"quantitative"},"y2":{"field":"y2"}}},
{"transform":[{"filter":"datum.kind=='rhead'"}],
 "mark":{"type":"point","shape":"triangle","filled":true,"size":360,"color":"#e2392c","opacity":1},
 "encoding":{"x":{"field":"x","type":"quantitative"},"y":{"field":"y","type":"quantitative"},"angle":{"field":"angle","type":"quantitative","scale":{"domain":[0,360],"range":[0,360]}}}},
{"transform":[{"filter":"datum.kind=='tc'"}],
 "mark":{"type":"text","font":"DejaVu Sans","fontSize":16,"fontWeight":"bold","align":"center","baseline":"middle"},
 "encoding":{"x":{"field":"x","type":"quantitative"},"y":{"field":"y","type":"quantitative"},"text":{"field":"text"},
  "fill":{"field":"tone","type":"nominal","scale":{"domain":["ink","tcold","trcold","thot","trhot"],"range":["#1d2730","#83c8ee","#2f84d6","#f4b3d1","#e9462f"]},"legend":null}}},
{"transform":[{"filter":"datum.kind=='tl'"}],
 "mark":{"type":"text","font":"DejaVu Sans","fontSize":16,"fontWeight":"bold","align":"left","baseline":"middle"},
 "encoding":{"x":{"field":"x","type":"quantitative"},"y":{"field":"y","type":"quantitative"},"text":{"field":"text"},
  "fill":{"field":"tone","type":"nominal","legend":null}}},
{"transform":[{"filter":"datum.kind=='title'"}],
 "mark":{"type":"text","font":"DejaVu Sans","fontSize":18,"fontWeight":"bold","align":"center","baseline":"middle","color":"#1d2730"},
 "encoding":{"x":{"field":"x","type":"quantitative"},"y":{"field":"y","type":"quantitative"},"text":{"field":"text"}}}
]
}
}
